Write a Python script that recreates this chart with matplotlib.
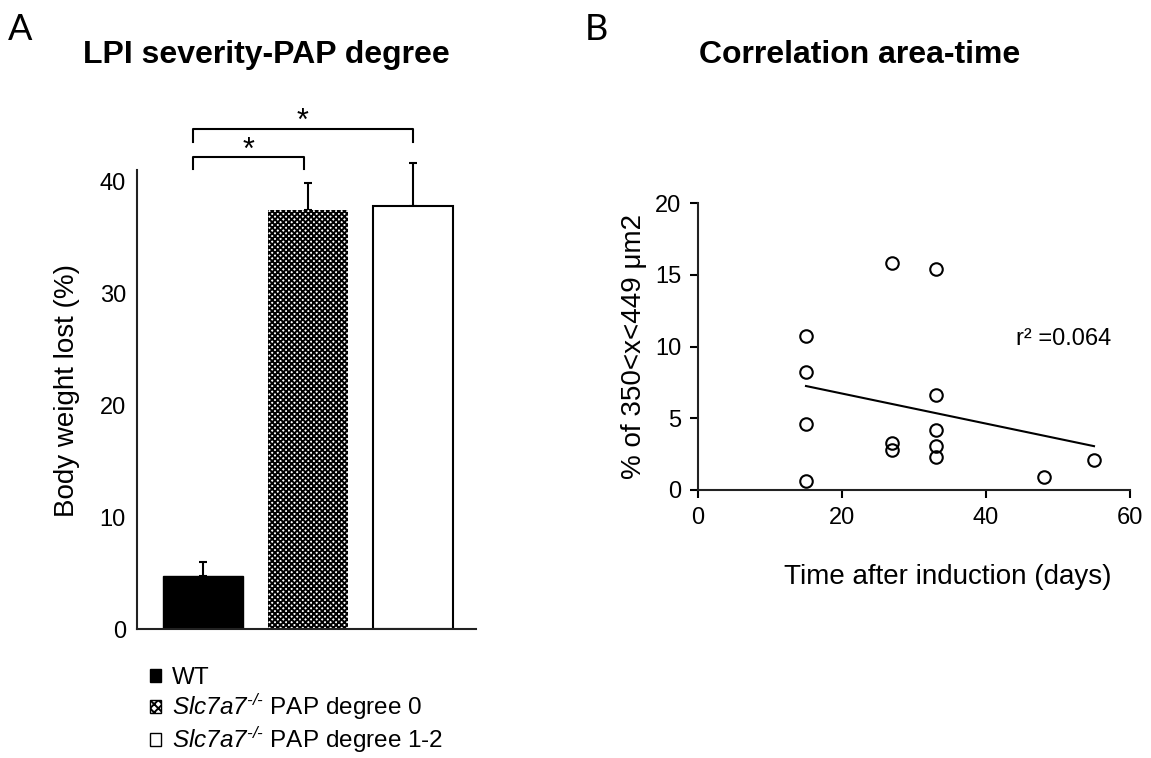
import numpy as np
import matplotlib
matplotlib.use("Agg")
import matplotlib.pyplot as plt
from matplotlib.patches import Patch

plt.rcParams['font.family'] = ['Liberation Sans', 'DejaVu Sans']
plt.rcParams['mathtext.fontset'] = 'custom'
plt.rcParams['mathtext.rm'] = 'Liberation Sans:italic'
plt.rcParams['mathtext.it'] = 'Liberation Sans:italic'
plt.rcParams['mathtext.bf'] = 'Liberation Sans:bold'
plt.rcParams['hatch.linewidth'] = 1.4

# ---------------- data ----------------
groups = ['WT', r'$\mathrm{Slc7a7}^{\mathrm{‐/‐}}$ PAP degree 0', r'$\mathrm{Slc7a7}^{\mathrm{‐/‐}}$ PAP degree 1-2']
weight_lost = [4.7, 37.4, 37.8]
weight_sd = [1.3, 2.4, 3.8]
yticks_a = [0, 10, 20, 30, 40]

days = [15, 15, 15, 15, 27, 27, 27, 33, 33, 33, 33, 33, 48, 55]
area_pct = [10.7, 8.2, 4.6, 0.6, 15.8, 3.3, 2.8, 15.4, 6.6, 4.2, 3.1, 2.3, 0.9, 2.1]
xticks_b = [0, 20, 40, 60]
yticks_b = [0, 5, 10, 15, 20]

W, H = 1151, 758
fig = plt.figure(figsize=(W / 100, H / 100), dpi=100)

# ---------------- panel A ----------------
axA = fig.add_axes([137 / W, 1 - 629 / H, 339 / W, 459 / H])
pos = np.arange(len(weight_lost))
bw = 0.762
axA.bar(pos[0], weight_lost[0], bw, color='black', edgecolor='black', linewidth=1.0, zorder=2)
axA.bar(pos[1], weight_lost[1], bw, color='white', edgecolor='black', hatch='xxxxxx', linewidth=0, zorder=2)
axA.bar(pos[2], weight_lost[2], bw, color='white', edgecolor='black', linewidth=1.5, zorder=2)
eb = axA.errorbar(pos, weight_lost, yerr=[np.zeros(3), weight_sd], fmt='none', ecolor='black',
                  elinewidth=1.5, capsize=3, capthick=1.5, zorder=1)
for child in eb.get_children():
    child.set_clip_on(False)
axA.set_xlim(-0.629, 2.6)
axA.set_ylim(0, 41)
axA.set_xticks([])
axA.set_yticks(yticks_a)
axA.tick_params(axis='y', length=0, pad=8, labelsize=17)
for s in ['top', 'right']:
    axA.spines[s].set_visible(False)
for s in ['left', 'bottom']:
    axA.spines[s].set_linewidth(1.5)
    axA.spines[s].set_color('#222222')
axA.set_ylabel('Body weight lost (%)', fontsize=20)
axA.yaxis.label.set_va('center')
axA.yaxis.set_label_coords(-0.2065, 0.52)

# significance brackets
def bracket(x1, x2, y, tick, star_y):
    axA.plot([x1, x1, x2, x2], [y - tick, y, y, y - tick], color='black', lw=1.5, clip_on=False)
    axA.text((x1 + x2) / 2, star_y, '*', ha='center', va='center', fontsize=22, clip_on=False)

bracket(pos[0] - 0.1, pos[1] - 0.04, 42.2, 1.1, 42.7)
bracket(pos[0] - 0.1, pos[2], 44.65, 1.15, 45.3)

handles = [Patch(facecolor='black', edgecolor='black', linewidth=1.0),
           Patch(facecolor='white', edgecolor='black', hatch='xxxx', linewidth=1.0),
           Patch(facecolor='white', edgecolor='black', linewidth=1.0)]
fig.legend(handles, groups, loc='upper left', bbox_to_anchor=(150 / W, 1 - 667 / H),
           frameon=False, fontsize=17.5, handlelength=0.45, handleheight=0.45,
           handletextpad=0.45, labelspacing=0.1, borderpad=0, borderaxespad=0)

fig.text(266 / W, 1 - 55 / H, 'LPI severity-PAP degree', ha='center', va='center',
         fontsize=23, fontweight='bold')
fig.text(8 / W, 1 - 29 / H, 'A', ha='left', va='center', fontsize=26, family='Lato')

# ---------------- panel B ----------------
axB = fig.add_axes([698 / W, 1 - 490 / H, 432 / W, 287 / H])
axB.plot(days, area_pct, 'o', mfc='none', mec='black', ms=9, mew=1.5, clip_on=False, zorder=3)
slope, intercept = np.polyfit(days, area_pct, 1)
xfit = np.array([min(days), max(days)])
axB.plot(xfit, slope * xfit + intercept, color='black', lw=1.5)
r2 = np.corrcoef(days, area_pct)[0, 1] ** 2
axB.text(44.2, 10.5, 'r² =' + f'{r2:.3f}', ha='left', va='center', fontsize=17)
axB.set_xlim(0, 60)
axB.set_ylim(0, 20)
axB.set_xticks(xticks_b)
axB.set_yticks(yticks_b)
axB.tick_params(direction='out', length=6, width=1.5, labelsize=17, pad=6)
for s in ['top', 'right']:
    axB.spines[s].set_visible(False)
for s in ['left', 'bottom']:
    axB.spines[s].set_linewidth(1.5)
    axB.spines[s].set_color('#222222')
axB.set_ylabel('% of 350<x<449 μm2', fontsize=20)
axB.yaxis.label.set_va('center')
axB.yaxis.set_label_coords(-0.148, 0.5)
axB.set_xlabel('Time after induction (days)', fontsize=20)
axB.xaxis.label.set_va('center')
axB.xaxis.set_label_coords(0.579, -0.303)

fig.text(860 / W, 1 - 55 / H, 'Correlation area-time', ha='center', va='center',
         fontsize=23, fontweight='bold')
fig.text(585 / W, 1 - 29 / H, 'B', ha='left', va='center', fontsize=26, family='Lato')

fig.savefig('out.png', dpi=100)
